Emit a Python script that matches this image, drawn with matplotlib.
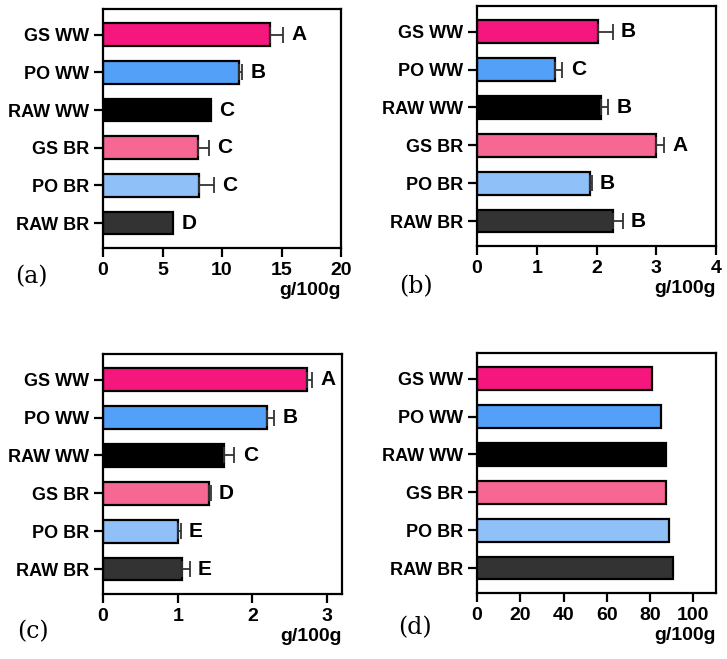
import matplotlib
matplotlib.use('Agg')
from matplotlib import pyplot as plt

# categories, top to bottom as shown
categories = ['GS WW', 'PO WW', 'RAW WW', 'GS BR', 'PO BR', 'RAW BR']
colors = ['#F5177D', '#52A0F8', '#000000', '#F76794', '#90C0F8', '#333333']

# panel (a)
a_vals = [14.0, 11.4, 9.1, 8.0, 8.05, 5.9]
a_err = [1.1, 0.3, 0.0, 0.9, 1.25, 0.0]
a_letters = ['A', 'B', 'C', 'C', 'C', 'D']
a_ticks = [0, 5, 10, 15, 20]

# panel (b)
b_vals = [2.03, 1.31, 2.08, 2.99, 1.89, 2.27]
b_err = [0.24, 0.12, 0.11, 0.14, 0.03, 0.17]
b_letters = ['B', 'C', 'B', 'A', 'B', 'B']
b_ticks = [0, 1, 2, 3, 4]

# panel (c)
c_vals = [2.73, 2.19, 1.62, 1.42, 1.01, 1.06]
c_err = [0.07, 0.10, 0.14, 0.02, 0.03, 0.10]
c_letters = ['A', 'B', 'C', 'D', 'E', 'E']
c_ticks = [0, 1, 2, 3]

# panel (d)
d_vals = [81.0, 84.9, 87.3, 87.3, 88.7, 90.7]
d_ticks = [0, 20, 40, 60, 80, 100]

plt.rcParams['font.family'] = ['Liberation Sans', 'DejaVu Sans']
plt.rcParams['font.weight'] = 'bold'

fig = plt.figure(figsize=(7.27, 6.59), dpi=100)


def panel(rect, vals, ticks, xmax, err=None, letters=None, tag='', tagpos=(0, 0)):
    ax = fig.add_axes(rect)
    n = len(categories)
    pos = [n - 1 - i for i in range(n)]
    ax.barh(pos, vals, height=0.6, color=colors, edgecolor='black', linewidth=1.6, zorder=2)
    if err is not None:
        for p, v, e in zip(pos, vals, err):
            if e > 0:
                ax.errorbar(v, p, xerr=[[0], [e]], fmt='none', ecolor='#333333',
                            elinewidth=1.3, capsize=5.5, capthick=1.3, zorder=3)
    if letters is not None:
        for p, v, e, l in zip(pos, vals, err, letters):
            ax.annotate(l, (v + e, p), xytext=(6, 0), textcoords='offset points',
                        ha='left', va='center', fontsize=15, fontweight='bold')
    ax.set_yticks(pos)
    ax.set_yticklabels(categories)
    ax.set_xticks(ticks)
    ax.set_xlim(0, xmax)
    ax.set_ylim(-0.66, 5.68)
    for s in ax.spines.values():
        s.set_linewidth(1.6)
    ax.tick_params(axis='both', width=1.6, length=6.5, pad=3.5)
    ax.tick_params(axis='y', labelsize=13)
    ax.tick_params(axis='x', labelsize=14)
    ax.set_xlabel('g/100g', loc='right', fontsize=14, fontweight='bold', labelpad=2)
    fig.text(tagpos[0] / 727, 1 - tagpos[1] / 659, tag, family='DejaVu Serif',
             fontweight='normal', fontsize=17, ha='center', va='center')
    return ax


panel([103 / 727, 1 - 248 / 659, 238 / 727, 239 / 659], a_vals, a_ticks, 20,
      a_err, a_letters, '(a)', (31, 277))
panel([477 / 727, 1 - 246 / 659, 239 / 727, 240 / 659], b_vals, b_ticks, 4,
      b_err, b_letters, '(b)', (416, 287))
panel([103 / 727, 1 - 594 / 659, 239 / 727, 240 / 659], c_vals, c_ticks, 3.2,
      c_err, c_letters, '(c)', (33, 632))
panel([477 / 727, 1 - 593 / 659, 239 / 727, 240 / 659], d_vals, d_ticks, 110.5,
      tag='(d)', tagpos=(415, 628))

fig.savefig('out.png', dpi=100)
